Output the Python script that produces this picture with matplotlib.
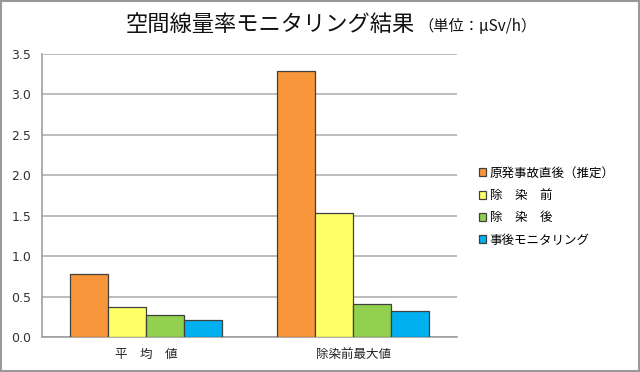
import numpy as np
import matplotlib
matplotlib.use("Agg")
from matplotlib import pyplot as plt
from matplotlib.patches import Rectangle

plt.rcParams['font.family'] = ['Noto Sans CJK JP', 'DejaVu Sans']

categories = ["平　均　値", "除染前最大値"]
series_names = ["原発事故直後（推定）", "除　染　前", "除　染　後", "事後モニタリング"]
after_accident = [0.78, 3.29]
before_decon = [0.37, 1.53]
after_decon = [0.27, 0.41]
monitoring = [0.21, 0.32]
colors = ["#F7963A", "#FFFF66", "#92D050", "#00B0F0"]
yticks = [0.0, 0.5, 1.0, 1.5, 2.0, 2.5, 3.0, 3.5]

fig = plt.figure(figsize=(6.4, 3.72), dpi=100)
ax = fig.add_axes([0.066, 0.094, 0.648, 0.761])

x = np.arange(len(categories))
width = 0.183
series = [after_accident, before_decon, after_decon, monitoring]
for i, (vals, name, c) in enumerate(zip(series, series_names, colors)):
    ax.bar(x + (i - 1.5) * width, vals, width, color=c, edgecolor="#404040",
           linewidth=0.9, label=name, zorder=3)

ax.set_xlim(-0.5, 1.5)
ax.set_ylim(0, 3.5)
ax.set_yticks(yticks)
ax.set_yticklabels([f"{v:.1f}" for v in yticks], fontsize=9, color="#333333", family="DejaVu Sans")
ax.set_xticks(x)
ax.set_xticklabels(categories, fontsize=9, color="#222222")
ax.tick_params(axis="both", length=0, pad=8)
ax.grid(axis="y", color="#B0B0B0", linewidth=1.2, zorder=0)
for s in ["top", "right"]:
    ax.spines[s].set_visible(False)
ax.spines["left"].set_color("#A0A0A0")
ax.spines["bottom"].set_color("#A0A0A0")
ax.spines["left"].set_linewidth(1.2)
ax.spines["bottom"].set_linewidth(1.2)

ax.legend(loc="center left", bbox_to_anchor=(1.025, 0.46), frameon=False,
          fontsize=9, handlelength=0.6, handleheight=0.6, handletextpad=0.3,
          labelspacing=0.75)

fig.text(0.648, 0.935, "空間線量率モニタリング結果", ha="right", va="center", fontsize=16, color="#111111")
fig.text(0.654, 0.93, "（単位：μSv/h）", ha="left", va="center", fontsize=11, color="#111111")

fig.patches.append(Rectangle((0.002, 0.003), 0.996, 0.994, transform=fig.transFigure,
                             fill=False, edgecolor="#999999", linewidth=1.5))

fig.savefig("out.png", dpi=100)
